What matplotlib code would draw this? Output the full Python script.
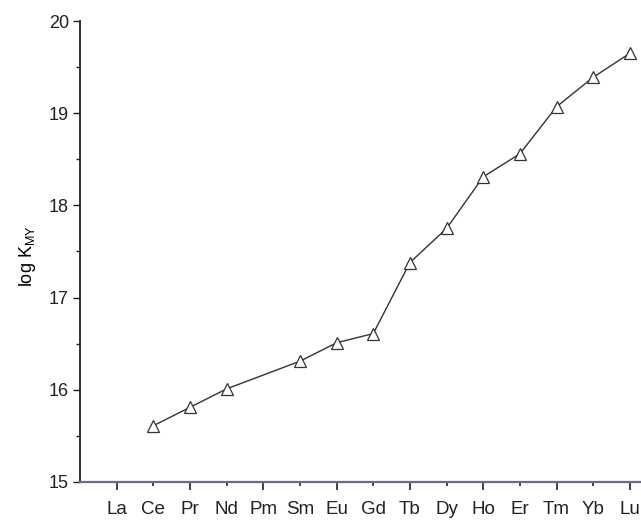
import matplotlib
matplotlib.use('Agg')
import matplotlib.pyplot as plt

# Данные
elements = ['La', 'Ce', 'Pr', 'Nd', 'Pm', 'Sm', 'Eu', 'Gd', 'Tb', 'Dy', 'Ho', 'Er', 'Tm', 'Yb', 'Lu']
measured = ['Ce', 'Pr', 'Nd', 'Sm', 'Eu', 'Gd', 'Tb', 'Dy', 'Ho', 'Er', 'Tm', 'Yb', 'Lu']
log_k = [15.61, 15.81, 16.01, 16.31, 16.51, 16.61, 17.38, 17.75, 18.31, 18.56, 19.07, 19.39, 19.65]

plt.rcParams['font.family'] = ['Liberation Sans', 'DejaVu Sans']
plt.rcParams['mathtext.fontset'] = 'custom'
plt.rcParams['mathtext.rm'] = 'Liberation Sans'
plt.rcParams['mathtext.it'] = 'Liberation Sans'
plt.rcParams['text.color'] = '#222222'
plt.rcParams['xtick.color'] = '#222222'
plt.rcParams['ytick.color'] = '#222222'

fig = plt.figure(figsize=(6.41, 5.2), dpi=100)
ax = fig.add_axes([0.1248, 0.0731, 0.875, 0.8865])

x = [elements.index(e) for e in measured]
ax.plot(x, log_k, color='#333333', linewidth=1.0, marker='^', markersize=9,
        markerfacecolor='white', markeredgecolor='#333333', markeredgewidth=0.9)

ax.set_xlim(-1.0, 14.3)
ax.set_ylim(15, 20)

# Оси
ax.spines['top'].set_visible(False)
ax.spines['right'].set_visible(False)
ax.spines['left'].set_color('#222222')
ax.spines['bottom'].set_color('#6a6a8c')
ax.spines['left'].set_linewidth(1.3)
ax.spines['bottom'].set_linewidth(1.6)

major_x = list(range(0, len(elements), 2))
minor_x = list(range(1, len(elements), 2))
ax.set_xticks(major_x)
ax.set_xticks(minor_x, minor=True)
ax.set_xticklabels([elements[i] for i in major_x], fontsize=13.5)
ax.set_xticklabels([elements[i] for i in minor_x], minor=True, fontsize=13.5)
ax.tick_params(axis='x', which='major', direction='out', length=6, width=1.2, pad=8)
ax.tick_params(axis='x', which='minor', direction='out', length=3, width=1.2, pad=11)

ax.set_yticks([15, 16, 17, 18, 19, 20])
ax.set_yticks([15.5, 16.5, 17.5, 18.5, 19.5], minor=True)
ax.tick_params(axis='y', which='major', direction='out', length=5, width=1.0, labelsize=13, pad=3)
ax.tick_params(axis='y', which='minor', direction='out', length=3, width=1.0)

ax.set_ylabel(r'log K$_{\mathrm{MY}}$', fontsize=13)
ax.yaxis.set_label_coords(-0.075, 0.49)

plt.savefig('out.png', dpi=100)
